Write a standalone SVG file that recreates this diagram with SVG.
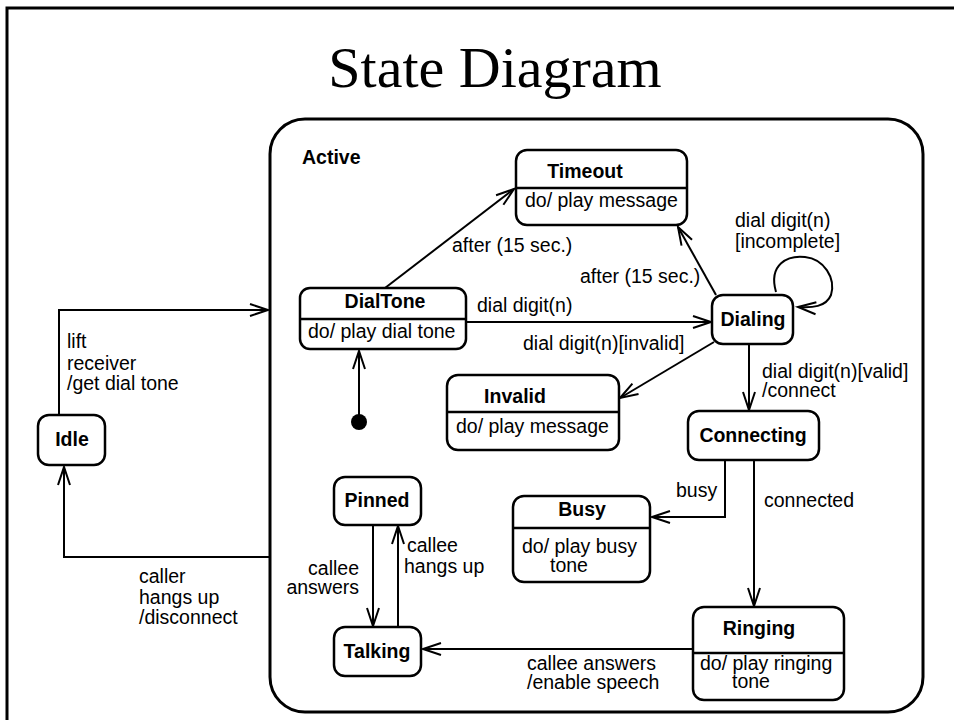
<svg xmlns="http://www.w3.org/2000/svg" width="954" height="720" viewBox="0 0 954 720">
  <style>
    text { font-family: "Liberation Sans", Arial, sans-serif; font-size: 19.5px; fill: #000; }
    .title { font-family: "Liberation Serif", "Times New Roman", serif; font-size: 58px; }
    .b { font-weight: bold; }
    .m { text-anchor: middle; }
    .e { text-anchor: end; }
    .node { fill: #fff; stroke: #000; stroke-width: 2.5; }
    .div { stroke: #000; stroke-width: 2.5; }
    .edge { fill: none; stroke: #000; stroke-width: 2; }
    .frame { fill: none; stroke: #000; stroke-width: 3; }
  </style>
  <defs>
    <marker id="arrow" markerUnits="userSpaceOnUse" markerWidth="24" markerHeight="16" viewBox="-20 -8 24 16" refX="0" refY="0" orient="auto">
      <path d="M-18,-6 L0,0 L-18,6" fill="none" stroke="#000" stroke-width="2"/>
    </marker>
  </defs>

  <rect width="954" height="720" fill="#fff"/>
  <!-- page frame -->
  <rect class="frame" x="7" y="8" width="970" height="730"/>
  <text class="title m" x="495" y="87">State Diagram</text>

  <!-- composite state -->
  <g id="active">
    <rect class="frame" x="270" y="119" width="653" height="593" rx="35"/>
    <text class="b" x="302" y="164">Active</text>
  </g>

  <g id="connectors">
    <!-- Idle -> Active -->
    <polyline class="edge" points="59,415 59,310 268,310" marker-end="url(#arrow)"/>
    <text x="67" y="348">lift</text>
    <text x="67" y="370">receiver</text>
    <text x="67" y="390">/get dial tone</text>
    <!-- Active -> Idle -->
    <polyline class="edge" points="270,557 64,557 64,467" marker-end="url(#arrow)"/>
    <text x="139" y="583">caller</text>
    <text x="139" y="604">hangs up</text>
    <text x="139" y="624">/disconnect</text>
    <!-- initial -> DialTone -->
    <line class="edge" x1="359" y1="420" x2="359" y2="351" marker-end="url(#arrow)"/>
    <!-- DialTone -> Timeout -->
    <line class="edge" x1="385" y1="288" x2="514" y2="189" marker-end="url(#arrow)"/>
    <text x="452" y="252">after (15 sec.)</text>
    <!-- DialTone -> Dialing -->
    <line class="edge" x1="466" y1="322" x2="711" y2="322" marker-end="url(#arrow)"/>
    <text x="477" y="312">dial digit(n)</text>
    <!-- Dialing -> Timeout -->
    <line class="edge" x1="716" y1="295" x2="678" y2="227" marker-end="url(#arrow)"/>
    <text x="580" y="283">after (15 sec.)</text>
    <!-- Dialing self loop -->
    <path class="edge" d="M776,292 C768,264 788,255 805,257 C824,259 836,278 831,295 C826,307 812,308 798,307" marker-end="url(#arrow)"/>
    <text x="735" y="227">dial digit(n)</text>
    <text x="735" y="248">[incomplete]</text>
    <!-- Dialing -> Invalid -->
    <line class="edge" x1="714" y1="342" x2="620" y2="398" marker-end="url(#arrow)"/>
    <text x="523" y="350">dial digit(n)[invalid]</text>
    <!-- Dialing -> Connecting -->
    <line class="edge" x1="749" y1="344" x2="749" y2="410" marker-end="url(#arrow)"/>
    <text x="762" y="378">dial digit(n)[valid]</text>
    <text x="762" y="397">/connect</text>
    <!-- Connecting -> Busy -->
    <polyline class="edge" points="725,460 725,517 652,517" marker-end="url(#arrow)"/>
    <text x="676" y="497">busy</text>
    <!-- Connecting -> Ringing -->
    <line class="edge" x1="754" y1="460" x2="754" y2="606" marker-end="url(#arrow)"/>
    <text x="764" y="507">connected</text>
    <!-- Ringing -> Talking -->
    <line class="edge" x1="693" y1="649" x2="423" y2="649" marker-end="url(#arrow)"/>
    <text x="527" y="670">callee answers</text>
    <text x="527" y="689">/enable speech</text>
    <!-- Pinned -> Talking -->
    <line class="edge" x1="373" y1="525" x2="373" y2="626" marker-end="url(#arrow)"/>
    <text class="e" x="359" y="575">callee</text>
    <text class="e" x="359" y="594">answers</text>
    <!-- Talking -> Pinned -->
    <line class="edge" x1="398" y1="627" x2="398" y2="526" marker-end="url(#arrow)"/>
    <text x="407" y="552">callee</text>
    <text x="404" y="573">hangs up</text>
  </g>

  <g id="initial">
    <circle cx="359" cy="422" r="8" fill="#000"/>
  </g>

  <g id="idle">
    <rect class="node" x="38" y="415" width="67" height="50" rx="11"/>
    <text class="b m" x="72" y="446">Idle</text>
  </g>

  <g id="timeout">
    <rect class="node" x="516" y="150" width="171" height="75" rx="11"/>
    <line class="div" x1="516" y1="188" x2="687" y2="188"/>
    <text class="b m" x="585" y="178">Timeout</text>
    <text x="525" y="207">do/ play message</text>
  </g>

  <g id="dialtone">
    <rect class="node" x="300" y="288" width="166" height="61" rx="10"/>
    <line class="div" x1="300" y1="319" x2="466" y2="319"/>
    <text class="b m" x="385" y="308">DialTone</text>
    <text x="308" y="338">do/ play dial tone</text>
  </g>

  <g id="dialing">
    <rect class="node" x="712" y="295" width="81" height="49" rx="11"/>
    <text class="b m" x="753" y="326">Dialing</text>
  </g>

  <g id="invalid">
    <rect class="node" x="447" y="375" width="172" height="75" rx="11"/>
    <line class="div" x1="447" y1="412" x2="619" y2="412"/>
    <text class="b m" x="515" y="403">Invalid</text>
    <text x="456" y="433">do/ play message</text>
  </g>

  <g id="connecting">
    <rect class="node" x="688" y="411" width="131" height="49" rx="11"/>
    <text class="b m" x="753" y="442">Connecting</text>
  </g>

  <g id="busy">
    <rect class="node" x="513" y="496" width="137" height="86" rx="11"/>
    <line class="div" x1="513" y1="528" x2="650" y2="528"/>
    <text class="b m" x="582" y="516">Busy</text>
    <text x="522" y="553">do/ play busy</text>
    <text x="550" y="572">tone</text>
  </g>

  <g id="pinned">
    <rect class="node" x="334" y="477" width="87" height="48" rx="11"/>
    <text class="b m" x="377" y="507">Pinned</text>
  </g>

  <g id="talking">
    <rect class="node" x="334" y="627" width="87" height="49" rx="11"/>
    <text class="b m" x="377" y="658">Talking</text>
  </g>

  <g id="ringing">
    <rect class="node" x="693" y="607" width="151" height="93" rx="11"/>
    <line class="div" x1="693" y1="653" x2="844" y2="653"/>
    <text class="b m" x="759" y="635">Ringing</text>
    <text x="700" y="670">do/ play ringing</text>
    <text x="732" y="688">tone</text>
  </g>
</svg>
